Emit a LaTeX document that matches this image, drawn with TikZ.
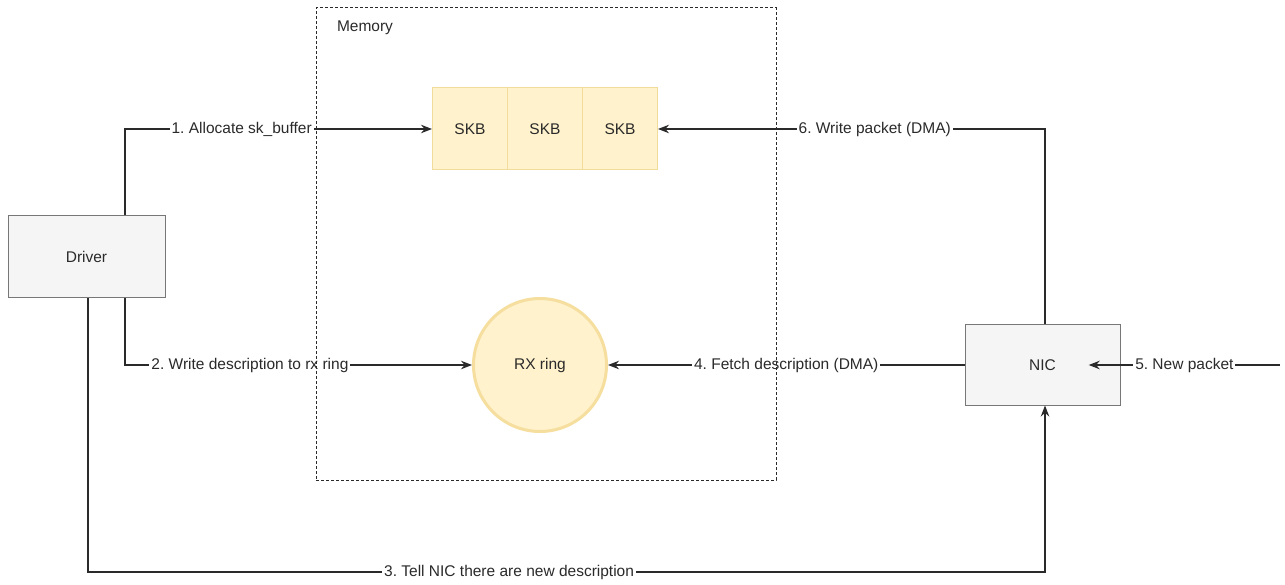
\documentclass[tikz,border=0pt]{standalone}
\usepackage{fontspec}
\setmainfont{Liberation Sans}
\usetikzlibrary{arrows.meta}
\frenchspacing
\definecolor{skbfill}{HTML}{FFF2CC}
\definecolor{skbline}{HTML}{F2DC9B}
\definecolor{ringline}{HTML}{F5DE9E}
\definecolor{boxfill}{HTML}{F5F5F5}
\definecolor{boxline}{HTML}{777777}
\definecolor{linec}{HTML}{2A2A2A}
\begin{document}
\begin{tikzpicture}[x=1pt,y=-1pt,
  every node/.style={font=\fontsize{15.5}{18}\selectfont, text=linec},
  membox/.style={draw=linec, densely dashed, line width=1pt, minimum width=460, minimum height=472, inner sep=0},
  skbbox/.style={draw=skbline, fill=skbfill, line width=1pt, minimum width=75, minimum height=82, inner sep=0},
  ringnode/.style={circle, draw=ringline, fill=skbfill, line width=3pt, minimum size=133, inner sep=0},
  unitbox/.style={draw=boxline, fill=boxfill, line width=1pt, inner sep=0},
  arr/.style={draw=linec, line width=1.2pt, -{Stealth[length=11pt,width=8.5pt]}},
  lbl/.style={fill=white, inner sep=2pt}
]
\useasboundingbox (0,0) rectangle (1285,585);
% nodes
\node[skbbox] (skb1) at (470,129) {SKB};
\node[skbbox] (skb2) at (545,129) {SKB};
\node[skbbox] (skb3) at (620,129) {SKB};
\node[unitbox, minimum width=157, minimum height=82] (driver) at (86.5,257) {};
\node (drivertext) at (driver.center) {Driver};
\node[ringnode] (rx) at (540,365) {RX ring};
\node[unitbox, minimum width=155, minimum height=80] (nic) at (1042.5,365) {};
\node[minimum width=92, inner sep=0] (nictext) at (nic.center) {NIC};
\coordinate (in5) at (1280,365);
\coordinate (c3) at (88,572);
% connectors
\draw[arr] ([xshift=38.5]driver.north) |- (skb1.west)
  node[lbl, pos=0.69] {1. Allocate sk\_buffer};
\draw[arr] ([xshift=2.5]nic.north) |- (skb3.east)
  node[lbl, pos=0.72] {6. Write packet (DMA)};
\draw[arr] ([xshift=38.5]driver.south) |- (rx.west)
  node[lbl, pos=0.68] {2. Write description to rx ring};
\draw[arr] (nic.west) -- (rx.east)
  node[lbl, pos=0.5] {4. Fetch description (DMA)};
\draw[arr] (in5) -- (nictext.east)
  node[lbl, pos=0.5] {5. New packet};
\draw[arr] (driver.south -| c3) -- (c3) -| ([xshift=2.5]nic.south)
  node[lbl, pos=0.22] {3. Tell NIC there are new description};
% memory container
\node[membox] (mem) at (546,244) {};
\node (memlabel) at (365,28) {Memory};
\end{tikzpicture}
\end{document}
